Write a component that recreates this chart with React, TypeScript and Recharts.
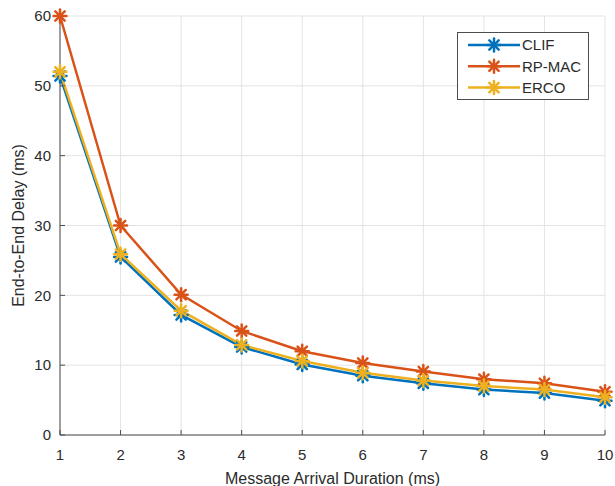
import React from 'react';
import { LineChart, Line, XAxis, YAxis, CartesianGrid, Legend } from 'recharts';

// message arrival duration (ms)
const durations = [1, 2, 3, 4, 5, 6, 7, 8, 9, 10];
// end-to-end delay (ms) per scheme
const clif = [51.4, 25.5, 17.2, 12.6, 10.1, 8.5, 7.4, 6.5, 6.0, 4.9];
const rpMac = [60, 30, 20.1, 14.9, 12.0, 10.3, 9.1, 8.0, 7.4, 6.2];
const erco = [52, 25.9, 17.8, 12.9, 10.6, 8.9, 7.8, 7.0, 6.5, 5.4];
const yTicks = [0, 10, 20, 30, 40, 50, 60];
const seriesNames = ['CLIF', 'RP-MAC', 'ERCO'];

const data = durations.map((d, i) => ({
  duration: d,
  clif: clif[i],
  rpMac: rpMac[i],
  erco: erco[i],
}));

const FONT = '"Liberation Sans", Arial, sans-serif';
const AXIS = '#4d4d4d';
const TEXT = '#2b2b2b';

function Star({ cx, cy, stroke, r = 6.5 }: any) {
  if (cx == null || cy == null) return null;
  const d = r * 0.72;
  return (
    <g stroke={stroke} strokeWidth={2.5} strokeLinecap="round">
      <line x1={cx - r} y1={cy} x2={cx + r} y2={cy} />
      <line x1={cx} y1={cy - r} x2={cx} y2={cy + r} />
      <line x1={cx - d} y1={cy - d} x2={cx + d} y2={cy + d} />
      <line x1={cx - d} y1={cy + d} x2={cx + d} y2={cy - d} />
    </g>
  );
}

function LegendBox({ payload }: any) {
  // keep the plotting order, not the alphabetical one
  const items = seriesNames
    .map((n) => (payload || []).find((p: any) => p.value === n))
    .filter(Boolean);
  return (
    <svg width={132} height={68}>
      <rect x={0.5} y={0.5} width={131} height={67} fill="#fff" stroke={AXIS} />
      {items.map((p: any, i: number) => {
        const y = 13 + i * 21.3;
        return (
          <g key={p.value}>
            <line x1={11} x2={63} y1={y} y2={y} stroke={p.color} strokeWidth={2.5} />
            <Star cx={37} cy={y} stroke={p.color} />
            <text x={65} y={y} dy="0.35em" fontSize={15} fill={TEXT} fontFamily={FONT}>
              {p.value}
            </text>
          </g>
        );
      })}
    </svg>
  );
}

const YLabel = ({ viewBox }: any) => (
  <text
    transform={`translate(${viewBox.x + 24}, ${viewBox.y + viewBox.height / 2}) rotate(-90)`}
    textAnchor="middle"
    fontSize={16}
    fill={TEXT}
    fontFamily={FONT}
  >
    End-to-End Delay (ms)
  </text>
);

const noTick = () => <g />;

export default function App() {
  const dot = (color: string) => (props: any) => (
    <Star key={`${props.dataKey}-${props.index}`} cx={props.cx} cy={props.cy} stroke={color} />
  );

  return (
    <div style={{ position: 'absolute', left: 0, top: 0, background: '#fff' }}>
      <LineChart width={615} height={486} data={data} margin={{ top: 16, right: 10, left: 0, bottom: 0 }}>
        <CartesianGrid stroke="#e3e3e3" />
        <XAxis
          dataKey="duration"
          type="number"
          domain={[1, 10]}
          ticks={durations}
          height={51}
          tickSize={-5}
          tickMargin={19}
          stroke={AXIS}
          tick={{ fill: TEXT, fontSize: 15, fontFamily: FONT }}
          label={{
            value: 'Message Arrival Duration (ms)',
            position: 'insideBottom',
            offset: 2,
            fill: TEXT,
            fontSize: 16,
            fontFamily: FONT,
          }}
        />
        <XAxis
          xAxisId="top"
          orientation="top"
          dataKey="duration"
          type="number"
          domain={[1, 10]}
          ticks={durations}
          height={0}
          tickSize={-5}
          stroke={AXIS}
          tick={noTick}
        />
        <YAxis
          domain={[0, 60]}
          ticks={yTicks}
          width={60}
          tickSize={-5}
          tickMargin={14}
          stroke={AXIS}
          tick={{ fill: TEXT, fontSize: 15, fontFamily: FONT }}
          label={{ content: YLabel }}
        />
        <YAxis
          yAxisId="right"
          orientation="right"
          domain={[0, 60]}
          ticks={yTicks}
          width={0}
          tickSize={-5}
          stroke={AXIS}
          tick={noTick}
        />
        <Legend
          layout="horizontal"
          verticalAlign="middle"
          align="center"
          wrapperStyle={{ left: 457, top: 32, width: 132, height: 68 }}
          content={LegendBox}
        />
        <Line
          dataKey="clif"
          name="CLIF"
          stroke="#0072BD"
          strokeWidth={2.5}
          dot={dot('#0072BD')}
          activeDot={false}
          isAnimationActive={false}
        />
        <Line
          dataKey="rpMac"
          name="RP-MAC"
          stroke="#D95319"
          strokeWidth={2.5}
          dot={dot('#D95319')}
          activeDot={false}
          isAnimationActive={false}
        />
        <Line
          dataKey="erco"
          name="ERCO"
          stroke="#EDB120"
          strokeWidth={2.5}
          dot={dot('#EDB120')}
          activeDot={false}
          isAnimationActive={false}
        />
      </LineChart>
    </div>
  );
}
